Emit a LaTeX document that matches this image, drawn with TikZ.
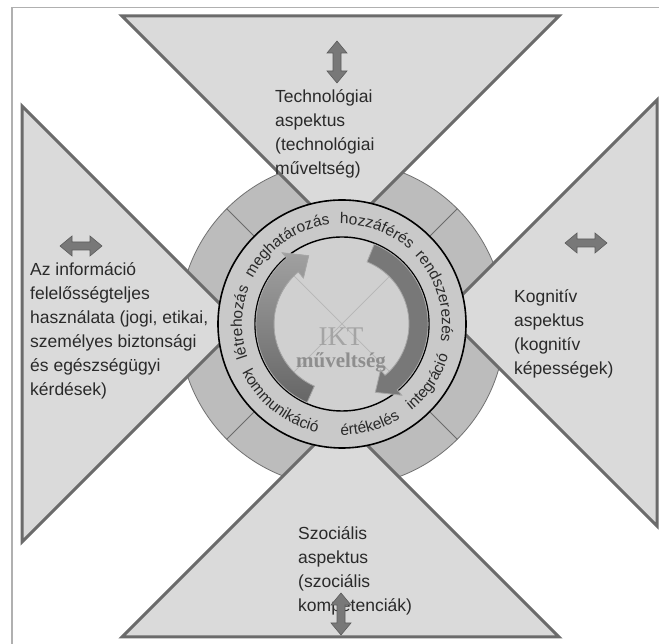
\documentclass[tikz,border=0pt]{standalone}
\usepackage{fontspec}
\setmainfont{Liberation Sans}
\newfontfamily\centerserif{Liberation Serif}
\usetikzlibrary{calc,decorations.text}

\definecolor{trifill}{HTML}{DADADA}
\definecolor{triedge}{HTML}{6B6B6B}
\definecolor{annfill}{HTML}{BCBCBC}
\definecolor{bandfill}{HTML}{C9C9C9}
\definecolor{diskfill}{HTML}{D0D0D0}
\definecolor{txt}{HTML}{2A2A2A}
\definecolor{arrowfill}{HTML}{787878}
\definecolor{arrowedge}{HTML}{5C5C5C}
\definecolor{framecol}{HTML}{B0B0B0}
\definecolor{ikt}{HTML}{A4A4A4}
\definecolor{muv}{HTML}{8E8E8E}

\begin{document}
\begin{tikzpicture}[x=1pt,y=1pt,
  aspect/.style={draw=triedge, line width=3pt, fill=trifill, line join=miter},
  aspectlabel/.style={inner sep=0pt, anchor=north west, align=left, text=txt,
    font=\fontsize{17.5}{24}\selectfont},
  dblarrow/.style={fill=arrowfill, draw=arrowedge, line width=0.6pt, line join=miter},
  cyclearrow/.style={fill=arrowfill, draw=arrowfill!65!white, line width=0.8pt},
  ringtext/.style={decorate, decoration={text along path, text align=center,
    text={|\fontsize{15.5}{17}\selectfont\color{txt}|#1}}},
  hdouble/.pic={\draw[dblarrow] (-21,0) -- (-9,10) -- (-9,4) -- (9,4) -- (9,10)
    -- (21,0) -- (9,-10) -- (9,-4) -- (-9,-4) -- (-9,-10) -- cycle;},
]
\useasboundingbox (0,0) rectangle (659,644);
\fill[white] (0,0) rectangle (659,644);

% thin outer frame (only top and left edges fall on the page)
\draw[framecol, line width=1.2pt] (12,0) -- (12,636.5) -- (659,636.5);

\coordinate (C) at (342,320);

% outer segmented annulus
\draw[annfill!60!black, line width=0.8pt, fill=annfill] (C) circle[radius=163];
\foreach \a in {45,135,225,315}
  \draw[triedge, line width=1pt] ($(C)+(\a:124)$) -- ($(C)+(\a:163)$);

% the four aspect triangles
\draw[aspect] (122,628) -- (559,628) -- (340.5,409.5) -- cycle;
\draw[aspect] (122,7) -- (559,7) -- (340.5,225.5) -- cycle;
\draw[aspect] (22,538) -- (22,102) -- (240,320) -- cycle;
\draw[aspect] (657,544) -- (657,118) -- (444,331) -- cycle;

% text ring and inner disk
\draw[black, line width=1.6pt, fill=bandfill] (C) circle[radius=124];
\draw[black, line width=1.4pt, fill=diskfill] (C) circle[radius=87];
\draw[ikt!80!white, line width=0.7pt] ($(C)+(45:86)$) -- ($(C)+(225:86)$);
\draw[ikt!80!white, line width=0.7pt] ($(C)+(135:86)$) -- ($(C)+(315:86)$);

% centre title
\node[inner sep=0pt, text=ikt, font=\centerserif\fontsize{27}{29}\selectfont] (ikt) at (341,307) {IKT};
\node[inner sep=0pt, text=muv, font=\centerserif\bfseries\fontsize{21}{24}\selectfont] (muv) at (341,282) {műveltség};

% two curved cycle arrows
\path[cyclearrow, top color=arrowfill!70!white, bottom color=arrowfill!85!black]
  ($(C)+(246:86)$) arc[start angle=246, end angle=130, radius=86]
  -- ($(C)+(130:93)$) -- ($(C)+(116:76)$) -- ($(C)+(130:60)$) -- ($(C)+(130:68)$)
  arc[start angle=130, end angle=246, radius=68] -- cycle;
\path[cyclearrow]
  ($(C)+(68:86)$) arc[start angle=68, end angle=-50, radius=86]
  -- ($(C)+(-50:93)$) -- ($(C)+(-64:76)$) -- ($(C)+(-50:60)$) -- ($(C)+(-50:67)$)
  arc[start angle=-50, end angle=68, radius=67] -- cycle;

% words around the ring
\path[ringtext={létrehozás}] ($(C)+(208:100)$) arc[start angle=208, end angle=150, radius=100];
\path[ringtext={meghatározás}] ($(C)+(163:100)$) arc[start angle=163, end angle=87, radius=100];
\path[ringtext={hozzáférés}] ($(C)+(103:100)$) arc[start angle=103, end angle=36, radius=100];
\path[ringtext={rendszerezés}] ($(C)+(55:100)$) arc[start angle=55, end angle=-22, radius=100];
\path[ringtext={kommunikáció}] ($(C)+(195:111)$) arc[start angle=195, end angle=268, radius=111];
\path[ringtext={értékelés}] ($(C)+(260:111)$) arc[start angle=260, end angle=311, radius=111];
\path[ringtext={integráció}] ($(C)+(300:111)$) arc[start angle=300, end angle=352, radius=111];

% aspect labels
\node[aspectlabel] (tech) at (275,555) {Technológiai\\aspektus\\(technológiai\\műveltség)};
\node[aspectlabel] (info) at (30,382) {Az információ\\felelősségteljes\\használata (jogi, etikai,\\személyes biztonsági\\és egészségügyi\\kérdések)};
\node[aspectlabel] (kogn) at (514,355) {Kognitív\\aspektus\\(kognitív\\képességek)};
\node[aspectlabel] (szoc) at (298,118) {Szociális\\aspektus\\(szociális\\kompetenciák)};

% double-headed arrows inside the triangles
\pic at (337,582) [rotate=90] {hdouble};
\pic at (81,398) {hdouble};
\pic at (586,401) {hdouble};
\pic at (341,30) [rotate=90] {hdouble};
\end{tikzpicture}
\end{document}
